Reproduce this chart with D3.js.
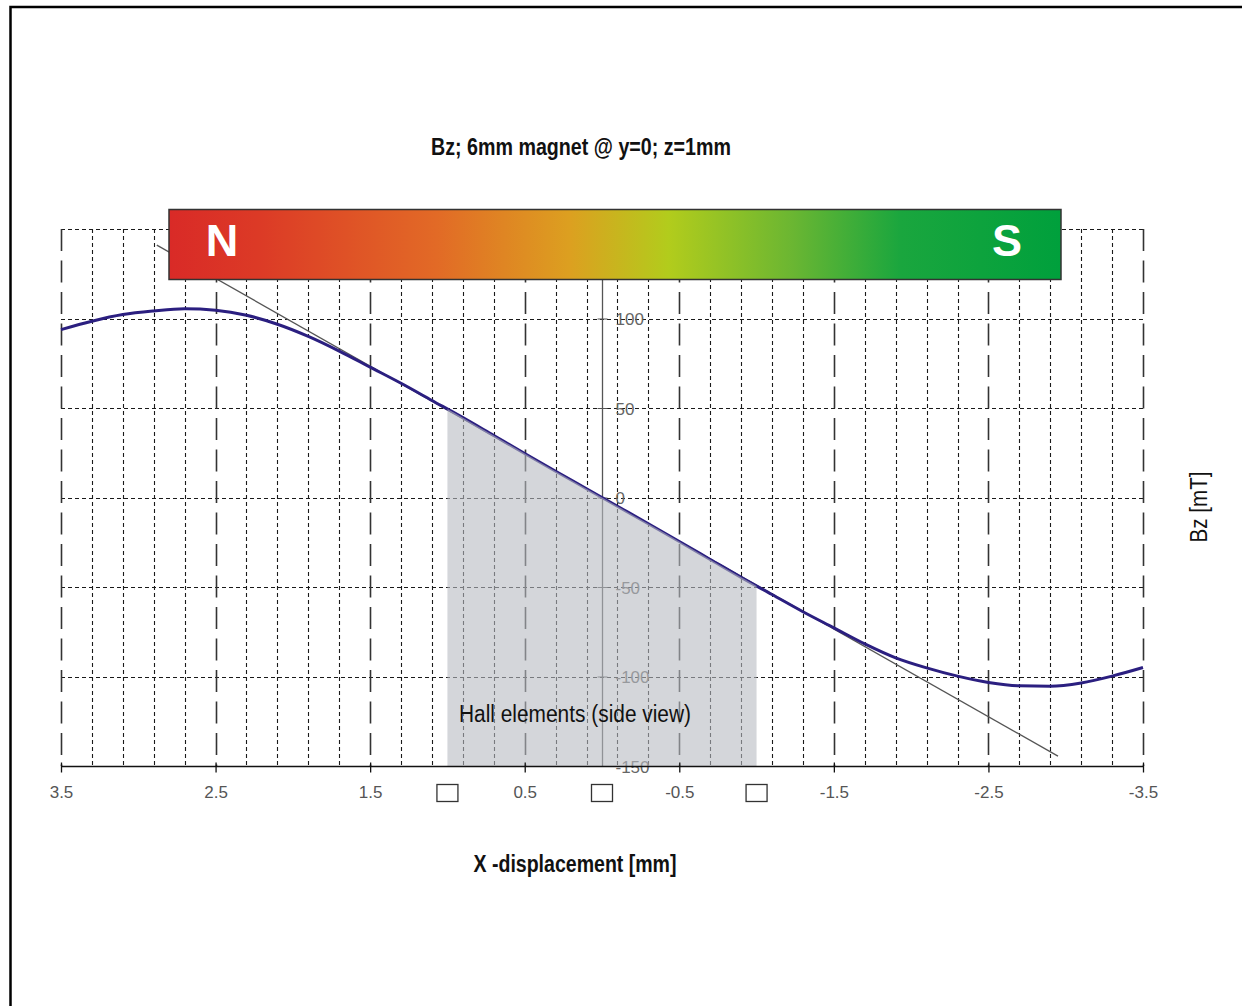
<!DOCTYPE html>
<html>
<head>
<meta charset="utf-8">
<script src="https://cdn.jsdelivr.net/npm/d3@7"></script>
<style>
  html, body { margin: 0; padding: 0; background: #fff; }
  svg { display: block; }
</style>
</head>
<body>
<svg id="chart" width="1242" height="1006"></svg>
<script>
// ---------- data ----------
const titleText = "Bz; 6mm magnet @ y=0; z=1mm";
const xLabelText = "X -displacement [mm]";
const yLabelText = "Bz [mT]";
const hallText = "Hall elements (side view)";

const xPositions = [3.5, 3.3, 3.1, 2.9, 2.7, 2.5, 2.3, 2.1, 1.9, 1.7, 1.5, 1.3, 1.1, 0.9, 0.7, 0.5, 0.3, 0.1,
  -0.1, -0.3, -0.5, -0.7, -0.9, -1.1, -1.3, -1.5, -1.7, -1.9, -2.1, -2.3, -2.5, -2.7, -2.9, -3.1, -3.3, -3.5];
const bzValues = [93.8, 98.5, 102.2, 104.2, 105.4, 104.6, 101.8, 96.8, 90.0, 81.8, 72.8, 63.8, 54.2, 44.6, 34.6, 24.6, 14.7, 4.9,
  -4.9, -14.7, -24.6, -34.6, -44.6, -54.2, -63.8, -72.8, -81.8, -89.6, -95.2, -99.8, -103.3, -105.2, -105.4, -103.6, -99.8, -95.0];

const tangentX = [2.88, -2.95];
const tangentY = [141.0, -144.5];

const hallPositions = [1.0, 0.0, -1.0];
const hallRange = [1.0, -1.0];

const xTicks = [3.5, 2.5, 1.5, 0.5, -0.5, -1.5, -2.5, -3.5];
const xTickLabels = ["3.5", "2.5", "1.5", "0.5", "-0.5", "-1.5", "-2.5", "-3.5"];
const yTicks = [100, 50, 0, -50, -100, -150];
const yTickLabels = ["100", "50", "0", "-50", "-100", "-150"];
const yGrid = [150, 100, 50, 0, -50, -100];

const magnetLabels = ["N", "S"];
const magnetColors = ["#d92a27", "#dc3a26", "#e26a26", "#dca020", "#b2cc1c", "#6ab632", "#1aa63e", "#00a03c"];
const magnetStops = [0, 0.1, 0.3, 0.45, 0.56, 0.7, 0.82, 1];

// ---------- layout ----------
const svg = d3.select("#chart");
const W = 1242, H = 1006;
const fontNum = "'Liberation Sans', Arial, sans-serif";
const fontTxt = "'Liberation Sans Narrow', 'Arial Narrow', 'Liberation Sans', sans-serif";

const x = d3.scaleLinear().domain([3.5, -3.5]).range([61, 1143]);
const y = d3.scaleLinear().domain([-150, 150]).range([766, 229]);

svg.append("rect").attr("width", W).attr("height", H).attr("fill", "#fff");

// outer frame (extends beyond right/bottom)
svg.append("rect").attr("x", 10.5).attr("y", 7).attr("width", 1400).attr("height", 1200)
  .attr("fill", "none").attr("stroke", "#000").attr("stroke-width", 2.5);

const g = svg.append("g");

// grid: horizontal
g.selectAll("line.hgrid").data(yGrid).join("line")
  .attr("class", "hgrid")
  .attr("x1", x(3.5)).attr("x2", x(-3.5))
  .attr("y1", d => Math.round(y(d)) + 0.5).attr("y2", d => Math.round(y(d)) + 0.5)
  .attr("stroke", "#1a1a1a").attr("stroke-width", 1.1).attr("stroke-dasharray", "4,3");

// grid: vertical (every 0.2 mm, long dashes on whole-offset lines)
const vGrid = d3.range(0, 36).map(i => +(3.5 - i * 0.2).toFixed(2));
g.selectAll("line.vgrid").data(vGrid).join("line")
  .attr("class", "vgrid")
  .attr("x1", d => Math.round(x(d)) + 0.5).attr("x2", d => Math.round(x(d)) + 0.5)
  .attr("y1", y(150)).attr("y2", y(-150))
  .attr("stroke", d => xTicks.includes(d) ? "#333" : "#1a1a1a")
  .attr("stroke-width", d => xTicks.includes(d) ? 1.6 : 1.1)
  .attr("stroke-dasharray", d => xTicks.includes(d) ? "22,9.5" : "4,3");

// y axis line
g.append("line")
  .attr("x1", x(0) + 0.5).attr("x2", x(0) + 0.5)
  .attr("y1", y(150)).attr("y2", y(-150))
  .attr("stroke", "#555").attr("stroke-width", 1.3);

// y axis ticks & labels
const yAxis = d3.axisRight(y).tickValues(yTicks).tickSize(5)
  .tickFormat((d, i) => yTickLabels[i]);
const yA = g.append("g").attr("transform", `translate(${x(0) + 0.5},0)`).call(yAxis);
yA.select(".domain").remove();
yA.selectAll(".tick line").attr("x1", -5).attr("stroke", "#555").attr("stroke-width", 1);
yA.selectAll(".tick text").attr("x", 13).attr("dy", "0.36em")
  .attr("font-family", fontNum).attr("font-size", 17).attr("fill", "#666")
  .attr("text-anchor", "start");

// tangent line
g.append("line")
  .attr("x1", x(tangentX[0])).attr("y1", y(tangentY[0]))
  .attr("x2", x(tangentX[1])).attr("y2", y(tangentY[1]))
  .attr("stroke", "#555").attr("stroke-width", 1.3);

// curve
const pts = xPositions.map((d, i) => [d, bzValues[i]]);
const line = d3.line().x(d => x(d[0])).y(d => y(d[1])).curve(d3.curveMonotoneX);
g.append("path").datum(pts)
  .attr("d", line)
  .attr("fill", "none").attr("stroke", "#2b1f80").attr("stroke-width", 3);

// hall region shaded area
function valueAt(xv) {
  for (let i = 0; i < pts.length - 1; i++) {
    const a = pts[i], b = pts[i + 1];
    if ((xv <= a[0] && xv >= b[0])) {
      const t = (a[0] - xv) / (a[0] - b[0]);
      return a[1] + t * (b[1] - a[1]);
    }
  }
  return 0;
}
const areaPts = [[hallRange[0], valueAt(hallRange[0])]]
  .concat(pts.filter(p => p[0] < hallRange[0] && p[0] > hallRange[1]))
  .concat([[hallRange[1], valueAt(hallRange[1])]]);
const area = d3.area().x(d => x(d[0])).y0(y(-150)).y1(d => y(d[1])).curve(d3.curveMonotoneX);
g.append("path").datum(areaPts)
  .attr("d", area)
  .attr("fill", "rgb(183,186,194)").attr("fill-opacity", 0.6);

// x axis
const xAxis = d3.axisBottom(x).tickValues(xTicks).tickSize(6)
  .tickFormat((d, i) => xTickLabels[i]).tickPadding(13);
const xA = g.append("g").attr("transform", `translate(0,${y(-150) + 0.5})`).call(xAxis);
xA.select(".domain").attr("stroke", "#111").attr("stroke-width", 1.5).attr("d", `M${x(3.5)},0H${x(-3.5)}`);
xA.selectAll(".tick line").attr("y1", -4).attr("stroke", "#111").attr("stroke-width", 1.3);
xA.selectAll(".tick text")
  .attr("font-family", fontNum).attr("font-size", 17).attr("fill", "#555");

// hall element squares
g.selectAll("rect.hall").data(hallPositions).join("rect")
  .attr("class", "hall")
  .attr("x", d => x(d) - 10.5).attr("y", 784.5)
  .attr("width", 21).attr("height", 17)
  .attr("fill", "#fff").attr("stroke", "#333").attr("stroke-width", 1.3);

// condensed text helper
function label(sel, txt, cx, cy, len, size, weight, rotate) {
  const t = sel.append("text")
    .attr("text-anchor", "middle")
    .attr("font-family", fontTxt).attr("font-size", size)
    .attr("font-weight", weight).attr("fill", "#111")
    .attr("textLength", len).attr("lengthAdjust", "spacingAndGlyphs")
    .text(txt);
  if (rotate) t.attr("transform", `translate(${cx},${cy}) rotate(-90)`);
  else t.attr("x", cx).attr("y", cy);
  return t;
}

label(g, hallText, 575, 722, 232, 23, "normal");
label(svg, titleText, 581, 155, 300, 23, "bold");
label(svg, xLabelText, 575, 872, 203, 23, "bold");
label(svg, yLabelText, 1207, 507, 71, 23, "normal", true);

// magnet bar
const defs = svg.append("defs");
const grad = defs.append("linearGradient").attr("id", "mag").attr("x1", "0%").attr("x2", "100%");
grad.selectAll("stop").data(magnetColors).join("stop")
  .attr("offset", (d, i) => magnetStops[i] * 100 + "%").attr("stop-color", d => d);

svg.append("rect").attr("x", 169).attr("y", 209.5).attr("width", 892).attr("height", 70)
  .attr("fill", "url(#mag)").attr("stroke", "#333").attr("stroke-width", 1.5);

svg.selectAll("text.pole").data(magnetLabels).join("text")
  .attr("class", "pole")
  .attr("x", (d, i) => i === 0 ? 222 : 1007).attr("y", 256)
  .attr("text-anchor", "middle")
  .attr("font-family", "'Liberation Sans', Arial, sans-serif").attr("font-weight", "bold")
  .attr("font-size", 45).attr("fill", "#fff")
  .text(d => d);
</script>
</body>
</html>
